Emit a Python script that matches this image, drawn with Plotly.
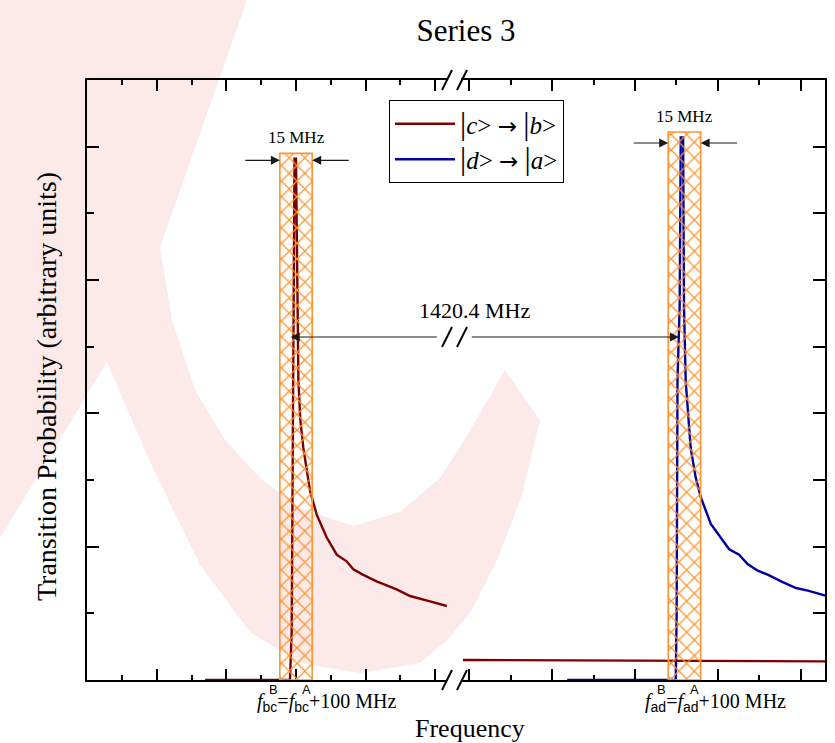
import plotly.graph_objects as go

SERIF = "Liberation Serif, Times New Roman, serif"
SANS = "Liberation Sans, Arial, sans-serif"
RED = "#7d0000"
BLUE = "#0000a3"
ORANGE = "#ff9430"
INK = "#1a1a1a"
BACKDROP = "#fce9ea"

# Frequency offsets (MHz) measured from f^B of each transition.
# |c> -> |b>, near f_bc (left panel)
cb_x = [-42.2, -2.8, -2.0, -1.4, -1.1, -0.7, 0.0, 0.9, 1.1, 2.0, 3.4, 6.5, 9.6,
        14.2, 18.9, 23.5, 26.6, 31.0, 37.4, 46.7, 52.9, 62.2, 70.0]
cb_y = [0.0, 0.0, 0.37, 2.25, 2.85, 3.91, 3.91, 2.85, 2.25, 1.95, 1.74, 1.42, 1.24,
        1.07, 0.94, 0.89, 0.83, 0.79, 0.74, 0.68, 0.63, 0.59, 0.555]
# |c> -> |b>, near f_ad (right panel)
cb_far_x = [-102.4, -60.0, -20.0, 20.0, 65.6]
cb_far_y = [0.150, 0.148, 0.146, 0.143, 0.140]
# |d> -> |a>, near f_ad (right panel)
da_x = [-54.2, -4.0, -3.6, -3.2, -2.2, -1.7, -0.6, -0.2, 0.6, 2.9, 5.2, 7.6, 12.2,
        16.8, 20.7, 25.3, 29.2, 33.9, 38.5, 44.7, 51.6, 57.1, 65.6]
da_y = [0.0, 0.0, 0.5, 2.25, 2.8, 4.07, 4.07, 2.8, 2.24, 1.74, 1.52, 1.37, 1.17,
        1.07, 0.98, 0.94, 0.87, 0.82, 0.79, 0.74, 0.69, 0.67, 0.63]

# 15 MHz excitation windows around each f^B
band_width = 15.0
band_center = [0.0, 0.0]
band_top = [3.95, 4.11]
band_axes = [("x", "y"), ("x2", "y2")]

split_label = "1420.4 MHz"


def ket_pair(a, b):
    bar = "<span style='font-size:31px'>|</span>"
    arrow = "<span style='font-family:DejaVu Sans;font-size:23px'>\u2192</span>"
    return f"{bar}<i>{a}</i>> {arrow} {bar}<i>{b}</i>>"


legend_names = [ket_pair("c", "b"), ket_pair("d", "a")]

fig = go.Figure()

fig.add_trace(go.Scatter(x=cb_x, y=cb_y, mode="lines", name=legend_names[0],
                         line=dict(color=RED, width=2.4), xaxis="x", yaxis="y"))
fig.add_trace(go.Scatter(x=da_x, y=da_y, mode="lines", name=legend_names[1],
                         line=dict(color=BLUE, width=2.4), xaxis="x2", yaxis="y2"))
fig.add_trace(go.Scatter(x=cb_far_x, y=cb_far_y, mode="lines", showlegend=False,
                         line=dict(color=RED, width=2.4), xaxis="x2", yaxis="y2"))

for xc, top, (xa, ya) in zip(band_center, band_top, band_axes):
    lo, hi = xc - band_width / 2, xc + band_width / 2
    fig.add_trace(go.Scatter(
        x=[lo, hi, hi, lo, lo], y=[0, 0, top, top, 0], mode="lines",
        fill="toself", fillcolor="rgba(0,0,0,0)",
        fillpattern=dict(shape="x", fgcolor=ORANGE, bgcolor="rgba(0,0,0,0)",
                         size=11, solidity=0.22, fillmode="replace"),
        line=dict(color=ORANGE, width=1.6), showlegend=False, hoverinfo="skip",
        xaxis=xa, yaxis=ya))

ML, MR, MT, MB = 87, 10, 80, 63
W, H = 835, 743
PW, PH = W - ML - MR, H - MT - MB


def px(xp):
    return (xp - ML) / PW


def py(yp):
    return (H - MB - yp) / PH


tick_common = dict(ticks="inside", tickwidth=2, tickcolor="black", showticklabels=False,
                   showgrid=False, zeroline=False, showline=True, linecolor="black",
                   linewidth=2)

fig.update_layout(
    width=W, height=H, margin=dict(l=ML, r=MR, t=MT, b=MB),
    paper_bgcolor="white", plot_bgcolor="rgba(0,0,0,0)",
    showlegend=True,
    font=dict(family=SERIF, color="black"),
    title=dict(text="Series 3", x=466 / W, xref="container", xanchor="center",
               y=1 - 30 / H, yref="container", yanchor="middle",
               font=dict(family=SERIF, size=31, color="black")),
    xaxis=dict(domain=[0, px(447)], range=[-97.0, 70.07], anchor="y",
               tickmode="linear", tick0=0, dtick=32.3, ticklen=11, mirror="ticks",
               layer="below traces",
               minor=dict(ticks="inside", ticklen=5, tickwidth=2, tickcolor="black",
                          tick0=0, dtick=16.15, showgrid=False),
               **tick_common),
    xaxis2=dict(domain=[px(461), 1], range=[-103.3, 65.0], anchor="y2",
                tickmode="linear", tick0=15.45, dtick=38.3, ticklen=11, mirror="ticks",
                layer="below traces",
                minor=dict(ticks="inside", ticklen=5, tickwidth=2, tickcolor="black",
                           tick0=15.45, dtick=19.15, showgrid=False),
                **tick_common),
    yaxis=dict(domain=[0, 1], range=[0, 4.5], anchor="x", tickmode="linear",
               tick0=0, dtick=1, ticklen=12,
               minor=dict(ticks="inside", ticklen=7, tickwidth=2, tickcolor="black",
                          dtick=0.5, showgrid=False),
               **tick_common),
    yaxis2=dict(domain=[0, 1], range=[0, 4.5], anchor="x2", side="right",
                tickmode="linear", tick0=0, dtick=1, ticklen=12,
                minor=dict(ticks="inside", ticklen=12, tickwidth=2, tickcolor="black",
                           dtick=0.5, showgrid=False),
                **tick_common),
    legend=dict(x=px(389), y=py(100), xanchor="left", yanchor="top",
                bordercolor="black", borderwidth=1, bgcolor="white",
                font=dict(family=SERIF, size=25, color="black"),
                itemwidth=60, tracegroupgap=0),
)

ann = []
# axis titles
ann.append(dict(text="Frequency", xref="paper", yref="paper", x=px(470), y=py(728),
                xanchor="center", yanchor="middle", showarrow=False,
                font=dict(size=26)))
ann.append(dict(text="Transition Probability (arbitrary units)", xref="paper",
                yref="paper", x=px(46), y=py(387), xanchor="center", yanchor="middle",
                textangle=-90, showarrow=False, font=dict(size=28)))

# 15 MHz window markers
for xc, top, (xa, ya), ys in zip(band_center, band_top, band_axes, [-7, -11]):
    lo, hi = xc - band_width / 2, xc + band_width / 2
    ann.append(dict(text="15 MHz", x=xc, y=top, xref=xa, yref=ya, showarrow=False,
                    yanchor="middle", yshift=16, font=dict(size=17)))
    for edge, tail in ((lo, -36), (hi, 38)):
        ann.append(dict(text="", x=edge, y=top, xref=xa, yref=ya, ax=tail, ay=0,
                        yshift=ys, showarrow=True, arrowhead=2, arrowsize=1.5,
                        arrowwidth=1.2, arrowcolor=INK, standoff=0))

# separation between the two resonances
y_sep = py(337) * 4.5
ann.append(dict(text="", x=-2.46, y=y_sep, xref="x", yref="y", ax=66.0, ay=y_sep,
                axref="x", ayref="y", showarrow=True, arrowhead=2, arrowsize=1.5,
                arrowwidth=1.2, arrowcolor=INK, standoff=0))
ann.append(dict(text="", x=-2.5, y=y_sep, xref="x2", yref="y2", ax=-99.0, ay=y_sep,
                axref="x2", ayref="y2", showarrow=True, arrowhead=2, arrowsize=1.5,
                arrowwidth=1.2, arrowcolor=INK, standoff=0))
ann.append(dict(text=split_label, xref="paper", yref="paper", x=px(474), y=py(310),
                xanchor="center", yanchor="middle", showarrow=False,
                font=dict(size=22)))

# resonance labels under the axis
for xa, sub in (("x", "bc"), ("x2", "ad")):
    s = f"<span style='font-family:{SANS}'><sub>{sub}</sub></span>"
    ann.append(dict(text=f"<i>f</i>{s}=<i>f</i>{s}+100 MHz",
                    x=0, y=0, xref=xa, yref="paper", xanchor="left", yanchor="middle",
                    xshift=-41, yshift=-22, showarrow=False, font=dict(size=20)))
    for sup, dx in (("B", -23), ("A", 10)):
        ann.append(dict(text=sup, x=0, y=0, xref=xa, yref="paper", xanchor="center",
                        yanchor="middle", xshift=dx, yshift=-9, showarrow=False,
                        font=dict(family=SANS, size=13)))

fig.update_layout(annotations=ann)

shapes = []

# pale backdrop emblem behind the figure (outline in figure pixels)
emblem = [(0, 0), (247, 0), (160, 247), (172, 320), (195, 390), (225, 440),
          (260, 478), (300, 508), (353, 526), (400, 512), (440, 478), (460, 447),
          (485, 405), (505, 370), (540, 420), (522, 495), (497, 560), (472, 610),
          (447, 640), (420, 663), (360, 673), (300, 663), (250, 632), (200, 565),
          (150, 462), (107, 362), (0, 538)]
path = "M " + " L ".join(f"{px(a):.5f},{py(b):.5f}" for a, b in emblem) + " Z"
shapes.append(dict(type="path", path=path, xref="paper", yref="paper", layer="below",
                   fillcolor=BACKDROP, line=dict(width=0)))

# axis-break marks: pairs of slashes across each split
for yc in (80, 680, 337):
    for xc in (447, 462):
        shapes.append(dict(type="line", xref="paper", yref="paper",
                           x0=px(xc - 5), y0=py(yc + 10), x1=px(xc + 5), y1=py(yc - 10),
                           line=dict(color="black", width=2)))
fig.update_layout(shapes=shapes)

fig.write_html("out.html")
